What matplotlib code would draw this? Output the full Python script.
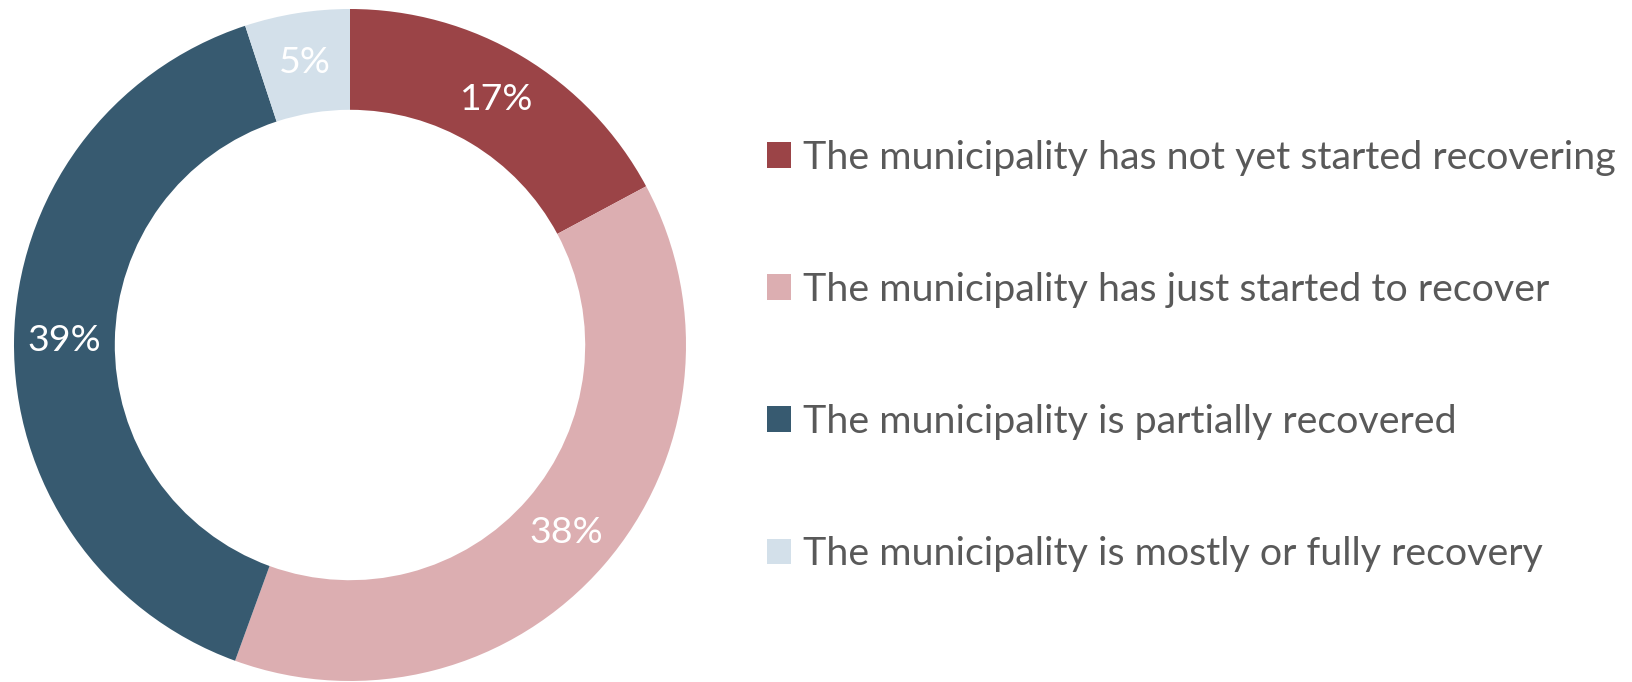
import matplotlib
matplotlib.use("Agg")
from matplotlib import pyplot as plt

labels = [
    "The municipality has not yet started recovering",
    "The municipality has just started to recover",
    "The municipality is partially recovered",
    "The municipality is mostly or fully recovery",
]
values = [17, 38, 39, 5]
colors = ["#9B4447", "#DCAEB1", "#375A70", "#D3E0EA"]

FONT = ["Lato", "DejaVu Sans"]
GRAY = "#595959"

W, H = 1633, 682
fig = plt.figure(figsize=(W / 100, H / 100), dpi=100)

# work out a font size so the longest legend line is about 814 px wide
probe = fig.text(0, 0, labels[0], fontsize=30, family=FONT)
fig.canvas.draw()
ext = probe.get_window_extent()
fs = 30 * 814 / ext.width
text_h = ext.height * fs / 30
probe.remove()
fs_px = fs * 100 / 72

cx, cy, r = 350, 682 - 345, 336
ax = fig.add_axes([(cx - r) / W, (cy - r) / H, 2 * r / W, 2 * r / H])
wedges, _, pcts = ax.pie(
    values, colors=colors, startangle=90, counterclock=False,
    autopct=lambda p: "%.0f%%" % p, pctdistance=0.85,
    wedgeprops=dict(width=0.3, linewidth=0),
    textprops=dict(color="white", fontsize=fs * 0.95, family=FONT),
)
ax.set_xlim(-1, 1)
ax.set_ylim(-1, 1)

sq = 24 / fs_px
fig.legend(
    wedges, labels, loc="center left", bbox_to_anchor=(767 / W, 1 - 356 / H),
    frameon=False, prop=dict(family=FONT, size=fs),
    labelcolor=GRAY, handlelength=sq, handleheight=sq, handletextpad=12 / fs_px,
    labelspacing=(132 - text_h) / fs_px, borderpad=0, borderaxespad=0,
)

fig.savefig("out.png", dpi=100)
